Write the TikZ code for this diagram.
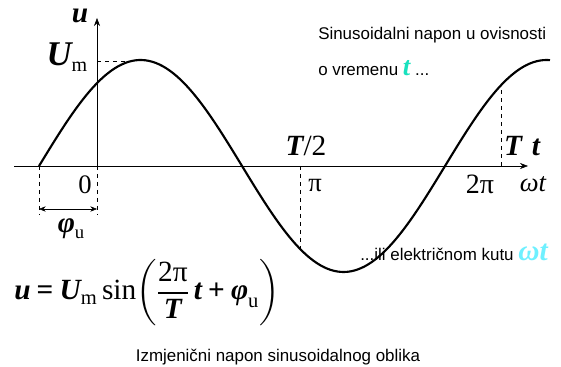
\documentclass[tikz,border=0pt]{standalone}
\usepackage{fontspec}
\setmainfont{Liberation Serif}
\setsansfont{Liberation Sans}
\usepackage{amsmath}
\usetikzlibrary{positioning, calc, arrows.meta}
\definecolor{tboja}{RGB}{25,225,190}
\definecolor{wtboja}{RGB}{110,240,255}
\newcommand{\bi}{\bfseries\itshape}
\newcommand{\fs}[1]{\fontsize{#1}{#1}\selectfont}

\begin{document}
\begin{tikzpicture}[x=0.75pt,y=-0.75pt,
    lbl/.style={inner sep=0pt, font=\fs{20}},
    note/.style={inner sep=0pt, anchor=west, font=\sffamily\fs{12.7}},
    guide/.style={dashed, thin},
    ostrelica/.style={-{Stealth[length=6pt,width=4.5pt]}}]
        \useasboundingbox (0,0) rectangle (561,367);
        %osi
        \coordinate (O) at (97,166);
        \draw[ostrelica] (14,166) -- (528,166);
        \draw[ostrelica] (O) -- (97,18);
        %sinusoida
        \draw[line width=1.6pt, line join=round]
          plot[domain=39:550, samples=150, smooth] (\x,{166-106*sin((\x-97)/203*180+51.4)});
        %vrh, nule, pomoci
        \coordinate (vrh) at (136,61);
        \coordinate (fi) at (39,166);
        \coordinate (pi) at (300,166);
        \coordinate (dvapi) at (501,166);
        \draw[guide] (97,61) -- (vrh);
        \draw[guide] (fi) --++ (0,49);
        \draw[guide] (O) --++ (0,49);
        \draw[guide] (pi) --++ (0,84);
        \draw[guide] (dvapi) --++ (0,-77);
        \draw[{Stealth[length=5pt,width=4pt]}-{Stealth[length=5pt,width=4pt]}] (39,209) -- (97,209);
        %oznake
        \node[lbl, font=\bi\fs{22}] (u) at (80,16) {u};
        \node[lbl] (um) at (67,57) {{\bi\fs{26}U}\raisebox{-5pt}{\fs{15}m}};
        \node[lbl] (nula) at (85,185) {0};
        \node[lbl, font=\fs{22}] (tpola) at (306,146) {{\bi T}/2};
        \node[lbl] (pioz) at (315,186) {π};
        \node[lbl, font=\bi\fs{22}] (tt) at (522,146) {T\,\,t};
        \node[lbl, font=\fs{21}] (dvapioz) at (480,184) {2π};
        \node[lbl, font=\itshape\fs{20}] (wt) at (533,184) {ωt};
        \node[lbl] (fiu) at (71,229) {{\bi\fs{22}φ}\raisebox{-4pt}{\fs{14}u}};
        %formula
        \node[lbl, anchor=west, font=\fs{22}] (formula) at (14,293)
          {$\displaystyle\text{\bi u} \mathbin{\text{\bfseries =}} \text{\bi U}_{\text{m}}\,\text{sin}\!\left(\frac{\text{2π}}{\text{\bi T}}\,\text{\bi t} \mathbin{\text{\bfseries +}} \text{\bi φ}_{\text{u}}\right)$};
        %tekst
        \node[note] (opis1) at (318,35) {Sinusoidalni napon u ovisnosti};
        \node[note] (opis2) at (318,68) {o vremenu {\color{tboja}\rmfamily\bi\fs{20}t} ...};
        \node[note] (opis3) at (360,252) {...ili električnom kutu {\color{wtboja}\rmfamily\bi\fs{22}ωt}};
        \node[note, anchor=center] (naslov) at (278,357) {Izmjenični napon sinusoidalnog oblika};
    \end{tikzpicture}
\end{document}
